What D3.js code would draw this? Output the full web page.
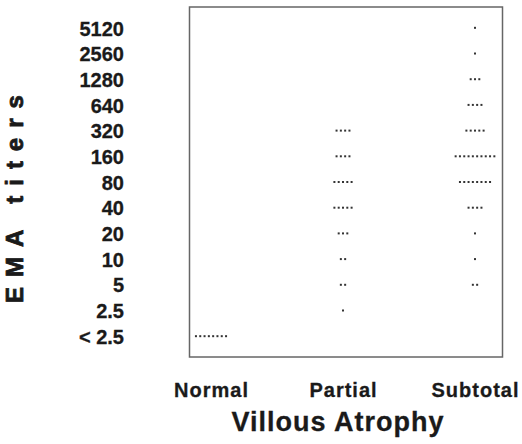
<!DOCTYPE html>
<html>
<head>
<meta charset="utf-8">
<script src="https://cdn.jsdelivr.net/npm/d3@7"></script>
<style>
  body { margin: 0; background: #fff; }
  text { font-family: "Liberation Sans", Arial, sans-serif; font-weight: bold; fill: #1a1a1a; }
</style>
</head>
<body>
<svg id="chart" width="522" height="444"></svg>
<script>
// titer levels, bottom to top
const titers = ["< 2.5", "2.5", "5", "10", "20", "40", "80", "160", "320", "640", "1280", "2560", "5120"];
const groups = ["Normal", "Partial", "Subtotal"];
// number of patients at each titer level
const normalCounts   = [8, 0, 0, 0, 0, 0, 0, 0, 0, 0, 0, 0, 0];
const partialCounts  = [0, 1, 2, 2, 3, 5, 5, 4, 4, 0, 0, 0, 0];
const subtotalCounts = [0, 0, 2, 1, 1, 4, 8, 10, 5, 4, 3, 1, 1];

const counts = { Normal: normalCounts, Partial: partialCounts, Subtotal: subtotalCounts };

const svg = d3.select("#chart");
const box = { left: 189.5, right: 502.5, top: 7, bottom: 357 };
const dotGap = 4.3;

const y = d3.scalePoint()
  .domain(titers)
  .range([box.bottom, box.top])
  .padding(0.81);

const x = d3.scalePoint()
  .domain(groups)
  .range([211, 475]);

// one dot per patient, spread sideways around the group centre
const dots = [];
groups.forEach(g => {
  counts[g].forEach((n, i) => {
    for (let j = 0; j < n; j++) {
      dots.push({ group: g, titer: titers[i], off: (j - (n - 1) / 2) * dotGap });
    }
  });
});

svg.append("rect")
  .attr("x", box.left).attr("y", box.top)
  .attr("width", box.right - box.left).attr("height", box.bottom - box.top)
  .attr("fill", "none").attr("stroke", "#666").attr("stroke-width", 1.5);

svg.append("g").selectAll("rect.dot").data(dots).enter()
  .append("rect")
  .attr("class", "dot")
  .attr("x", d => x(d.group) + d.off - 1)
  .attr("y", d => y(d.titer) - 1)
  .attr("width", 2).attr("height", 2)
  .attr("fill", "#333");

// y tick labels
const yAxis = svg.append("g")
  .attr("transform", "translate(124,0)")
  .call(d3.axisLeft(y).tickSize(0).tickPadding(0));
yAxis.select(".domain").remove();
yAxis.selectAll("text")
  .attr("dy", "0.36em")
  .style("font-size", "20px")
  .style("font-family", "'Liberation Sans', Arial, sans-serif")
  .style("font-weight", "bold")
  .style("stroke", "#1a1a1a")
  .style("stroke-width", 0.3)
  .attr("fill", "#1a1a1a");

// x category labels
const xAxis = svg.append("g")
  .attr("transform", "translate(0,397)")
  .call(d3.axisBottom(x).tickSize(0).tickPadding(0));
xAxis.select(".domain").remove();
xAxis.selectAll("text")
  .attr("dy", 0).attr("y", 0)
  .style("font-size", "20px")
  .style("letter-spacing", "1px")
  .style("font-family", "'Liberation Sans', Arial, sans-serif")
  .style("font-weight", "bold")
  .style("stroke", "#1a1a1a")
  .style("stroke-width", 0.3)
  .attr("fill", "#1a1a1a");

svg.append("text")
  .attr("x", 338).attr("y", 431)
  .attr("text-anchor", "middle")
  .style("font-size", "27px")
  .style("letter-spacing", "1px")
  .style("stroke", "#1a1a1a")
  .style("stroke-width", 0.3)
  .text("Villous Atrophy");

svg.append("text")
  .attr("transform", "translate(23,194) rotate(-90)")
  .attr("text-anchor", "middle")
  .style("font-size", "24px")
  .style("letter-spacing", "10px")
  .style("stroke", "#1a1a1a")
  .style("stroke-width", 0.8)
  .text("EMA titers");
</script>
</body>
</html>
